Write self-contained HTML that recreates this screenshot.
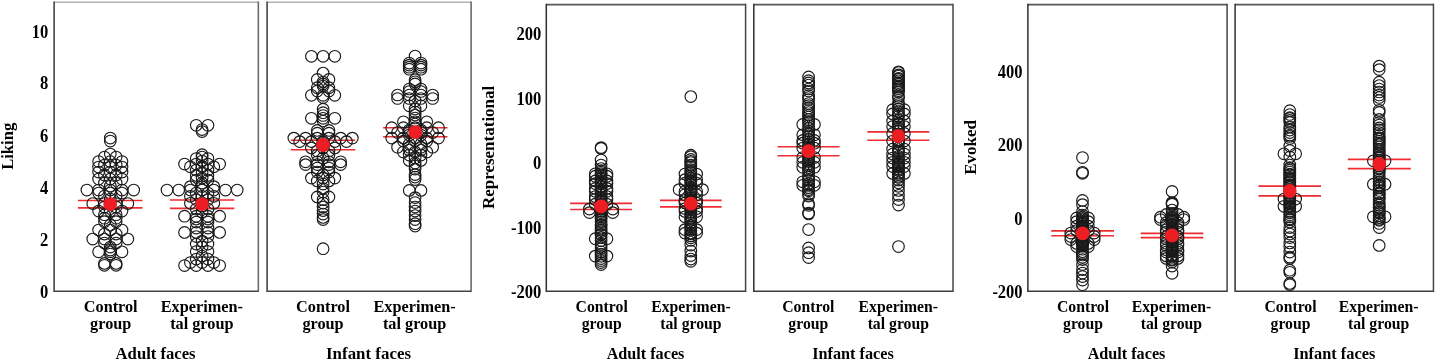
<!DOCTYPE html><html lang="en"><head><meta charset="utf-8"><title>Figure</title>
<style>html,body{margin:0;padding:0;background:#fff;overflow:hidden}svg{display:block}text{font-family:"Liberation Serif","Times New Roman",serif;font-weight:bold;fill:#000}</style></head><body>
<svg width="1436" height="360" viewBox="0 0 1436 360">
<rect width="1436" height="360" fill="#fff"/>
<g stroke="#ee2c31" stroke-width="1.65"><line x1="77.90" x2="142.50" y1="200.50" y2="200.50"/><line x1="77.90" x2="142.50" y1="207.90" y2="207.90"/></g>
<g stroke="#ee2c31" stroke-width="1.65"><line x1="169.90" x2="234.30" y1="200.00" y2="200.00"/><line x1="169.90" x2="234.30" y1="208.40" y2="208.40"/></g>
<g stroke="#ee2c31" stroke-width="1.65"><line x1="290.85" x2="355.25" y1="140.25" y2="140.25"/><line x1="290.85" x2="355.25" y1="149.75" y2="149.75"/></g>
<g stroke="#ee2c31" stroke-width="1.65"><line x1="383.10" x2="447.50" y1="127.70" y2="127.70"/><line x1="383.10" x2="447.50" y1="136.70" y2="136.70"/></g>
<g stroke="#ee2c31" stroke-width="1.65"><line x1="570.10" x2="632.10" y1="203.30" y2="203.30"/><line x1="570.10" x2="632.10" y1="209.50" y2="209.50"/></g>
<g stroke="#ee2c31" stroke-width="1.65"><line x1="660.00" x2="721.60" y1="200.35" y2="200.35"/><line x1="660.00" x2="721.60" y1="206.85" y2="206.85"/></g>
<g stroke="#ee2c31" stroke-width="1.65"><line x1="777.50" x2="839.50" y1="146.70" y2="146.70"/><line x1="777.50" x2="839.50" y1="155.70" y2="155.70"/></g>
<g stroke="#ee2c31" stroke-width="1.65"><line x1="867.30" x2="929.30" y1="131.80" y2="131.80"/><line x1="867.30" x2="929.30" y1="140.20" y2="140.20"/></g>
<g stroke="#ee2c31" stroke-width="1.65"><line x1="1051.20" x2="1114.00" y1="230.85" y2="230.85"/><line x1="1051.20" x2="1114.00" y1="235.75" y2="235.75"/></g>
<g stroke="#ee2c31" stroke-width="1.65"><line x1="1140.70" x2="1203.30" y1="233.35" y2="233.35"/><line x1="1140.70" x2="1203.30" y1="237.65" y2="237.65"/></g>
<g stroke="#ee2c31" stroke-width="1.65"><line x1="1258.40" x2="1321.00" y1="186.10" y2="186.10"/><line x1="1258.40" x2="1321.00" y1="195.90" y2="195.90"/></g>
<g stroke="#ee2c31" stroke-width="1.65"><line x1="1347.80" x2="1410.80" y1="159.35" y2="159.35"/><line x1="1347.80" x2="1410.80" y1="168.65" y2="168.65"/></g>
<g fill="none" stroke="#1a1a1a" stroke-width="1.15">
<circle cx="110.3" cy="138.0" r="5.8"/>
<circle cx="110.3" cy="141.0" r="5.8"/>
<circle cx="110.3" cy="154.0" r="5.8"/>
<circle cx="104.45" cy="157.0" r="5.8"/>
<circle cx="116.15" cy="157.0" r="5.8"/>
<circle cx="98.6" cy="161.5" r="5.8"/>
<circle cx="110.3" cy="161.5" r="5.8"/>
<circle cx="122.0" cy="161.5" r="5.8"/>
<circle cx="104.45" cy="165.0" r="5.8"/>
<circle cx="116.15" cy="165.0" r="5.8"/>
<circle cx="98.6" cy="167.0" r="5.8"/>
<circle cx="110.3" cy="167.0" r="5.8"/>
<circle cx="122.0" cy="167.0" r="5.8"/>
<circle cx="98.6" cy="172.0" r="5.8"/>
<circle cx="110.3" cy="172.0" r="5.8"/>
<circle cx="122.0" cy="172.0" r="5.8"/>
<circle cx="104.45" cy="175.0" r="5.8"/>
<circle cx="116.15" cy="175.0" r="5.8"/>
<circle cx="98.6" cy="179.0" r="5.8"/>
<circle cx="110.3" cy="179.0" r="5.8"/>
<circle cx="122.0" cy="179.0" r="5.8"/>
<circle cx="104.45" cy="183.0" r="5.8"/>
<circle cx="116.15" cy="183.0" r="5.8"/>
<circle cx="110.3" cy="186.0" r="5.8"/>
<circle cx="86.9" cy="190.0" r="5.8"/>
<circle cx="98.6" cy="190.0" r="5.8"/>
<circle cx="110.3" cy="190.0" r="5.8"/>
<circle cx="122.0" cy="190.0" r="5.8"/>
<circle cx="133.7" cy="190.0" r="5.8"/>
<circle cx="98.6" cy="193.0" r="5.8"/>
<circle cx="110.3" cy="193.0" r="5.8"/>
<circle cx="122.0" cy="193.0" r="5.8"/>
<circle cx="104.45" cy="196.0" r="5.8"/>
<circle cx="116.15" cy="196.0" r="5.8"/>
<circle cx="110.3" cy="199.0" r="5.8"/>
<circle cx="92.75" cy="203.5" r="5.8"/>
<circle cx="104.45" cy="203.5" r="5.8"/>
<circle cx="116.15" cy="203.5" r="5.8"/>
<circle cx="127.85" cy="203.5" r="5.8"/>
<circle cx="104.45" cy="207.0" r="5.8"/>
<circle cx="116.15" cy="207.0" r="5.8"/>
<circle cx="98.6" cy="211.0" r="5.8"/>
<circle cx="110.3" cy="211.0" r="5.8"/>
<circle cx="122.0" cy="211.0" r="5.8"/>
<circle cx="104.45" cy="214.7" r="5.8"/>
<circle cx="116.15" cy="214.7" r="5.8"/>
<circle cx="104.45" cy="218.2" r="5.8"/>
<circle cx="116.15" cy="218.2" r="5.8"/>
<circle cx="104.45" cy="221.7" r="5.8"/>
<circle cx="116.15" cy="221.7" r="5.8"/>
<circle cx="110.3" cy="225.0" r="5.8"/>
<circle cx="98.6" cy="230.0" r="5.8"/>
<circle cx="110.3" cy="230.0" r="5.8"/>
<circle cx="122.0" cy="230.0" r="5.8"/>
<circle cx="104.45" cy="234.0" r="5.8"/>
<circle cx="116.15" cy="234.0" r="5.8"/>
<circle cx="92.75" cy="239.0" r="5.8"/>
<circle cx="104.45" cy="239.0" r="5.8"/>
<circle cx="116.15" cy="239.0" r="5.8"/>
<circle cx="127.85" cy="239.0" r="5.8"/>
<circle cx="104.45" cy="243.0" r="5.8"/>
<circle cx="116.15" cy="243.0" r="5.8"/>
<circle cx="110.3" cy="247.0" r="5.8"/>
<circle cx="110.3" cy="250.0" r="5.8"/>
<circle cx="98.6" cy="251.8" r="5.8"/>
<circle cx="110.3" cy="251.8" r="5.8"/>
<circle cx="122.0" cy="251.8" r="5.8"/>
<circle cx="110.3" cy="254.0" r="5.8"/>
<circle cx="104.45" cy="263.4" r="5.8"/>
<circle cx="116.15" cy="263.4" r="5.8"/>
<circle cx="104.45" cy="265.3" r="5.8"/>
<circle cx="116.15" cy="265.3" r="5.8"/>
<circle cx="196.25" cy="125.3" r="5.8"/>
<circle cx="207.95" cy="125.3" r="5.8"/>
<circle cx="202.1" cy="129.5" r="5.8"/>
<circle cx="202.1" cy="131.5" r="5.8"/>
<circle cx="202.1" cy="154.7" r="5.8"/>
<circle cx="202.1" cy="157.0" r="5.8"/>
<circle cx="196.25" cy="158.5" r="5.8"/>
<circle cx="207.95" cy="158.5" r="5.8"/>
<circle cx="202.1" cy="161.0" r="5.8"/>
<circle cx="184.55" cy="164.0" r="5.8"/>
<circle cx="196.25" cy="164.0" r="5.8"/>
<circle cx="207.95" cy="164.0" r="5.8"/>
<circle cx="219.65" cy="164.0" r="5.8"/>
<circle cx="190.4" cy="166.8" r="5.8"/>
<circle cx="202.1" cy="166.8" r="5.8"/>
<circle cx="213.8" cy="166.8" r="5.8"/>
<circle cx="196.25" cy="170.0" r="5.8"/>
<circle cx="207.95" cy="170.0" r="5.8"/>
<circle cx="202.1" cy="172.5" r="5.8"/>
<circle cx="196.25" cy="175.4" r="5.8"/>
<circle cx="207.95" cy="175.4" r="5.8"/>
<circle cx="202.1" cy="178.0" r="5.8"/>
<circle cx="196.25" cy="180.0" r="5.8"/>
<circle cx="207.95" cy="180.0" r="5.8"/>
<circle cx="202.1" cy="183.0" r="5.8"/>
<circle cx="190.4" cy="186.6" r="5.8"/>
<circle cx="202.1" cy="186.6" r="5.8"/>
<circle cx="213.8" cy="186.6" r="5.8"/>
<circle cx="167.0" cy="190.0" r="5.8"/>
<circle cx="178.7" cy="190.0" r="5.8"/>
<circle cx="190.4" cy="190.0" r="5.8"/>
<circle cx="202.1" cy="190.0" r="5.8"/>
<circle cx="213.8" cy="190.0" r="5.8"/>
<circle cx="225.5" cy="190.0" r="5.8"/>
<circle cx="237.2" cy="190.0" r="5.8"/>
<circle cx="196.25" cy="193.0" r="5.8"/>
<circle cx="207.95" cy="193.0" r="5.8"/>
<circle cx="190.4" cy="196.3" r="5.8"/>
<circle cx="202.1" cy="196.3" r="5.8"/>
<circle cx="213.8" cy="196.3" r="5.8"/>
<circle cx="196.25" cy="199.5" r="5.8"/>
<circle cx="207.95" cy="199.5" r="5.8"/>
<circle cx="190.4" cy="203.3" r="5.8"/>
<circle cx="202.1" cy="203.3" r="5.8"/>
<circle cx="213.8" cy="203.3" r="5.8"/>
<circle cx="202.1" cy="206.0" r="5.8"/>
<circle cx="196.25" cy="209.0" r="5.8"/>
<circle cx="207.95" cy="209.0" r="5.8"/>
<circle cx="202.1" cy="212.0" r="5.8"/>
<circle cx="184.55" cy="216.2" r="5.8"/>
<circle cx="196.25" cy="216.2" r="5.8"/>
<circle cx="207.95" cy="216.2" r="5.8"/>
<circle cx="219.65" cy="216.2" r="5.8"/>
<circle cx="196.25" cy="219.0" r="5.8"/>
<circle cx="207.95" cy="219.0" r="5.8"/>
<circle cx="196.25" cy="222.0" r="5.8"/>
<circle cx="207.95" cy="222.0" r="5.8"/>
<circle cx="196.25" cy="228.0" r="5.8"/>
<circle cx="207.95" cy="228.0" r="5.8"/>
<circle cx="184.55" cy="232.4" r="5.8"/>
<circle cx="196.25" cy="232.4" r="5.8"/>
<circle cx="207.95" cy="232.4" r="5.8"/>
<circle cx="219.65" cy="232.4" r="5.8"/>
<circle cx="196.25" cy="236.5" r="5.8"/>
<circle cx="207.95" cy="236.5" r="5.8"/>
<circle cx="202.1" cy="241.0" r="5.8"/>
<circle cx="196.25" cy="244.0" r="5.8"/>
<circle cx="207.95" cy="244.0" r="5.8"/>
<circle cx="202.1" cy="247.0" r="5.8"/>
<circle cx="196.25" cy="251.5" r="5.8"/>
<circle cx="207.95" cy="251.5" r="5.8"/>
<circle cx="202.1" cy="256.0" r="5.8"/>
<circle cx="196.25" cy="259.0" r="5.8"/>
<circle cx="207.95" cy="259.0" r="5.8"/>
<circle cx="190.4" cy="262.5" r="5.8"/>
<circle cx="202.1" cy="262.5" r="5.8"/>
<circle cx="213.8" cy="262.5" r="5.8"/>
<circle cx="184.55" cy="265.5" r="5.8"/>
<circle cx="196.25" cy="265.5" r="5.8"/>
<circle cx="207.95" cy="265.5" r="5.8"/>
<circle cx="219.65" cy="265.5" r="5.8"/>
<circle cx="311.4" cy="56.3" r="5.8"/>
<circle cx="323.1" cy="56.3" r="5.8"/>
<circle cx="334.8" cy="56.3" r="5.8"/>
<circle cx="323.1" cy="73.1" r="5.8"/>
<circle cx="317.25" cy="79.4" r="5.8"/>
<circle cx="328.95" cy="79.4" r="5.8"/>
<circle cx="323.1" cy="82.0" r="5.8"/>
<circle cx="323.1" cy="84.0" r="5.8"/>
<circle cx="323.1" cy="86.0" r="5.8"/>
<circle cx="317.25" cy="87.7" r="5.8"/>
<circle cx="328.95" cy="87.7" r="5.8"/>
<circle cx="317.25" cy="91.0" r="5.8"/>
<circle cx="328.95" cy="91.0" r="5.8"/>
<circle cx="311.4" cy="95.3" r="5.8"/>
<circle cx="323.1" cy="95.3" r="5.8"/>
<circle cx="334.8" cy="95.3" r="5.8"/>
<circle cx="323.1" cy="97.5" r="5.8"/>
<circle cx="323.1" cy="109.2" r="5.8"/>
<circle cx="323.1" cy="112.7" r="5.8"/>
<circle cx="323.1" cy="115.5" r="5.8"/>
<circle cx="311.4" cy="118.3" r="5.8"/>
<circle cx="323.1" cy="118.3" r="5.8"/>
<circle cx="334.8" cy="118.3" r="5.8"/>
<circle cx="323.1" cy="121.0" r="5.8"/>
<circle cx="317.25" cy="130.4" r="5.8"/>
<circle cx="328.95" cy="130.4" r="5.8"/>
<circle cx="317.25" cy="133.2" r="5.8"/>
<circle cx="328.95" cy="133.2" r="5.8"/>
<circle cx="293.85" cy="138.1" r="5.8"/>
<circle cx="305.55" cy="138.1" r="5.8"/>
<circle cx="317.25" cy="138.1" r="5.8"/>
<circle cx="328.95" cy="138.1" r="5.8"/>
<circle cx="340.65" cy="138.1" r="5.8"/>
<circle cx="352.35" cy="138.1" r="5.8"/>
<circle cx="299.7" cy="141.6" r="5.8"/>
<circle cx="311.4" cy="141.6" r="5.8"/>
<circle cx="323.1" cy="141.6" r="5.8"/>
<circle cx="334.8" cy="141.6" r="5.8"/>
<circle cx="346.5" cy="141.6" r="5.8"/>
<circle cx="323.1" cy="145.0" r="5.8"/>
<circle cx="311.4" cy="147.9" r="5.8"/>
<circle cx="323.1" cy="147.9" r="5.8"/>
<circle cx="334.8" cy="147.9" r="5.8"/>
<circle cx="317.25" cy="151.0" r="5.8"/>
<circle cx="328.95" cy="151.0" r="5.8"/>
<circle cx="317.25" cy="155.0" r="5.8"/>
<circle cx="328.95" cy="155.0" r="5.8"/>
<circle cx="323.1" cy="158.0" r="5.8"/>
<circle cx="305.55" cy="161.8" r="5.8"/>
<circle cx="317.25" cy="161.8" r="5.8"/>
<circle cx="328.95" cy="161.8" r="5.8"/>
<circle cx="340.65" cy="161.8" r="5.8"/>
<circle cx="305.55" cy="164.6" r="5.8"/>
<circle cx="317.25" cy="164.6" r="5.8"/>
<circle cx="328.95" cy="164.6" r="5.8"/>
<circle cx="340.65" cy="164.6" r="5.8"/>
<circle cx="317.25" cy="168.0" r="5.8"/>
<circle cx="328.95" cy="168.0" r="5.8"/>
<circle cx="317.25" cy="172.0" r="5.8"/>
<circle cx="328.95" cy="172.0" r="5.8"/>
<circle cx="323.1" cy="175.0" r="5.8"/>
<circle cx="311.4" cy="178.1" r="5.8"/>
<circle cx="323.1" cy="178.1" r="5.8"/>
<circle cx="334.8" cy="178.1" r="5.8"/>
<circle cx="317.25" cy="180.9" r="5.8"/>
<circle cx="328.95" cy="180.9" r="5.8"/>
<circle cx="323.1" cy="184.0" r="5.8"/>
<circle cx="323.1" cy="188.5" r="5.8"/>
<circle cx="323.1" cy="192.0" r="5.8"/>
<circle cx="317.25" cy="196.9" r="5.8"/>
<circle cx="328.95" cy="196.9" r="5.8"/>
<circle cx="323.1" cy="199.5" r="5.8"/>
<circle cx="323.1" cy="203.0" r="5.8"/>
<circle cx="323.1" cy="207.0" r="5.8"/>
<circle cx="323.1" cy="210.5" r="5.8"/>
<circle cx="323.1" cy="214.0" r="5.8"/>
<circle cx="323.1" cy="217.4" r="5.8"/>
<circle cx="323.1" cy="219.5" r="5.8"/>
<circle cx="323.1" cy="248.7" r="5.8"/>
<circle cx="415.1" cy="56.0" r="5.8"/>
<circle cx="409.25" cy="63.0" r="5.8"/>
<circle cx="420.95" cy="63.0" r="5.8"/>
<circle cx="409.25" cy="65.1" r="5.8"/>
<circle cx="420.95" cy="65.1" r="5.8"/>
<circle cx="409.25" cy="67.2" r="5.8"/>
<circle cx="420.95" cy="67.2" r="5.8"/>
<circle cx="409.25" cy="69.2" r="5.8"/>
<circle cx="420.95" cy="69.2" r="5.8"/>
<circle cx="415.1" cy="79.7" r="5.8"/>
<circle cx="415.1" cy="81.8" r="5.8"/>
<circle cx="415.1" cy="83.9" r="5.8"/>
<circle cx="409.25" cy="89.0" r="5.8"/>
<circle cx="420.95" cy="89.0" r="5.8"/>
<circle cx="409.25" cy="91.5" r="5.8"/>
<circle cx="420.95" cy="91.5" r="5.8"/>
<circle cx="397.55" cy="95.0" r="5.8"/>
<circle cx="409.25" cy="95.0" r="5.8"/>
<circle cx="420.95" cy="95.0" r="5.8"/>
<circle cx="432.65" cy="95.0" r="5.8"/>
<circle cx="397.55" cy="98.5" r="5.8"/>
<circle cx="409.25" cy="98.5" r="5.8"/>
<circle cx="420.95" cy="98.5" r="5.8"/>
<circle cx="432.65" cy="98.5" r="5.8"/>
<circle cx="415.1" cy="101.0" r="5.8"/>
<circle cx="409.25" cy="105.8" r="5.8"/>
<circle cx="420.95" cy="105.8" r="5.8"/>
<circle cx="415.1" cy="109.0" r="5.8"/>
<circle cx="415.1" cy="112.0" r="5.8"/>
<circle cx="415.1" cy="115.0" r="5.8"/>
<circle cx="415.1" cy="118.0" r="5.8"/>
<circle cx="403.4" cy="121.8" r="5.8"/>
<circle cx="415.1" cy="121.8" r="5.8"/>
<circle cx="426.8" cy="121.8" r="5.8"/>
<circle cx="415.1" cy="124.0" r="5.8"/>
<circle cx="391.7" cy="127.7" r="5.8"/>
<circle cx="403.4" cy="127.7" r="5.8"/>
<circle cx="415.1" cy="127.7" r="5.8"/>
<circle cx="426.8" cy="127.7" r="5.8"/>
<circle cx="438.5" cy="127.7" r="5.8"/>
<circle cx="409.25" cy="130.0" r="5.8"/>
<circle cx="420.95" cy="130.0" r="5.8"/>
<circle cx="397.55" cy="132.5" r="5.8"/>
<circle cx="409.25" cy="132.5" r="5.8"/>
<circle cx="420.95" cy="132.5" r="5.8"/>
<circle cx="432.65" cy="132.5" r="5.8"/>
<circle cx="409.25" cy="135.0" r="5.8"/>
<circle cx="420.95" cy="135.0" r="5.8"/>
<circle cx="391.7" cy="138.1" r="5.8"/>
<circle cx="403.4" cy="138.1" r="5.8"/>
<circle cx="415.1" cy="138.1" r="5.8"/>
<circle cx="426.8" cy="138.1" r="5.8"/>
<circle cx="438.5" cy="138.1" r="5.8"/>
<circle cx="403.4" cy="141.0" r="5.8"/>
<circle cx="415.1" cy="141.0" r="5.8"/>
<circle cx="426.8" cy="141.0" r="5.8"/>
<circle cx="409.25" cy="144.0" r="5.8"/>
<circle cx="420.95" cy="144.0" r="5.8"/>
<circle cx="397.55" cy="147.2" r="5.8"/>
<circle cx="409.25" cy="147.2" r="5.8"/>
<circle cx="420.95" cy="147.2" r="5.8"/>
<circle cx="432.65" cy="147.2" r="5.8"/>
<circle cx="409.25" cy="150.0" r="5.8"/>
<circle cx="420.95" cy="150.0" r="5.8"/>
<circle cx="403.4" cy="152.0" r="5.8"/>
<circle cx="415.1" cy="152.0" r="5.8"/>
<circle cx="426.8" cy="152.0" r="5.8"/>
<circle cx="409.25" cy="155.0" r="5.8"/>
<circle cx="420.95" cy="155.0" r="5.8"/>
<circle cx="415.1" cy="158.0" r="5.8"/>
<circle cx="409.25" cy="160.4" r="5.8"/>
<circle cx="420.95" cy="160.4" r="5.8"/>
<circle cx="415.1" cy="163.0" r="5.8"/>
<circle cx="415.1" cy="166.0" r="5.8"/>
<circle cx="415.1" cy="169.0" r="5.8"/>
<circle cx="415.1" cy="174.6" r="5.8"/>
<circle cx="415.1" cy="177.0" r="5.8"/>
<circle cx="415.1" cy="179.5" r="5.8"/>
<circle cx="409.25" cy="190.4" r="5.8"/>
<circle cx="420.95" cy="190.4" r="5.8"/>
<circle cx="415.1" cy="197.6" r="5.8"/>
<circle cx="415.1" cy="202.5" r="5.8"/>
<circle cx="415.1" cy="207.0" r="5.8"/>
<circle cx="415.1" cy="211.0" r="5.8"/>
<circle cx="415.1" cy="215.5" r="5.8"/>
<circle cx="415.1" cy="219.5" r="5.8"/>
<circle cx="415.1" cy="223.7" r="5.8"/>
<circle cx="415.1" cy="226.0" r="5.8"/>
<circle cx="601.1" cy="147.6" r="5.8"/>
<circle cx="601.1" cy="148.4" r="5.8"/>
<circle cx="601.1" cy="160" r="5.8"/>
<circle cx="601.1" cy="165" r="5.8"/>
<circle cx="601.1" cy="168.5" r="5.8"/>
<circle cx="601.1" cy="170.5" r="5.8"/>
<circle cx="601.1" cy="172" r="5.8"/>
<circle cx="601.1" cy="173.74" r="5.8"/>
<circle cx="601.1" cy="175.24" r="5.8"/>
<circle cx="601.1" cy="177.72" r="5.8"/>
<circle cx="601.1" cy="178.62" r="5.8"/>
<circle cx="601.1" cy="181.05" r="5.8"/>
<circle cx="601.1" cy="182.55" r="5.8"/>
<circle cx="601.1" cy="183.85" r="5.8"/>
<circle cx="601.1" cy="186.26" r="5.8"/>
<circle cx="601.1" cy="187.32" r="5.8"/>
<circle cx="601.1" cy="189.65" r="5.8"/>
<circle cx="601.1" cy="190.87" r="5.8"/>
<circle cx="601.1" cy="192.65" r="5.8"/>
<circle cx="601.1" cy="194.89" r="5.8"/>
<circle cx="601.1" cy="197.23" r="5.8"/>
<circle cx="601.1" cy="197.95" r="5.8"/>
<circle cx="601.1" cy="199.84" r="5.8"/>
<circle cx="601.1" cy="202.19" r="5.8"/>
<circle cx="601.1" cy="204.41" r="5.8"/>
<circle cx="601.1" cy="205.61" r="5.8"/>
<circle cx="595.25" cy="173.8" r="5.8"/>
<circle cx="606.95" cy="173.8" r="5.8"/>
<circle cx="595.25" cy="176.2" r="5.8"/>
<circle cx="606.95" cy="176.2" r="5.8"/>
<circle cx="595.25" cy="180.9" r="5.8"/>
<circle cx="606.95" cy="180.9" r="5.8"/>
<circle cx="595.25" cy="183.6" r="5.8"/>
<circle cx="606.95" cy="183.6" r="5.8"/>
<circle cx="595.25" cy="188.4" r="5.8"/>
<circle cx="606.95" cy="188.4" r="5.8"/>
<circle cx="595.25" cy="191.2" r="5.8"/>
<circle cx="606.95" cy="191.2" r="5.8"/>
<circle cx="595.25" cy="196.5" r="5.8"/>
<circle cx="606.95" cy="196.5" r="5.8"/>
<circle cx="595.25" cy="199.3" r="5.8"/>
<circle cx="606.95" cy="199.3" r="5.8"/>
<circle cx="595.25" cy="204.2" r="5.8"/>
<circle cx="606.95" cy="204.2" r="5.8"/>
<circle cx="589.4" cy="209.1" r="5.8"/>
<circle cx="601.1" cy="209.1" r="5.8"/>
<circle cx="612.8" cy="209.1" r="5.8"/>
<circle cx="589.4" cy="212.6" r="5.8"/>
<circle cx="601.1" cy="212.6" r="5.8"/>
<circle cx="612.8" cy="212.6" r="5.8"/>
<circle cx="601.1" cy="207.83" r="5.8"/>
<circle cx="601.1" cy="210.8" r="5.8"/>
<circle cx="601.1" cy="211.24" r="5.8"/>
<circle cx="601.1" cy="214.6" r="5.8"/>
<circle cx="601.1" cy="215.65" r="5.8"/>
<circle cx="601.1" cy="217.4" r="5.8"/>
<circle cx="601.1" cy="219.36" r="5.8"/>
<circle cx="601.1" cy="221.68" r="5.8"/>
<circle cx="601.1" cy="224.53" r="5.8"/>
<circle cx="601.1" cy="225.46" r="5.8"/>
<circle cx="601.1" cy="228.14" r="5.8"/>
<circle cx="601.1" cy="230.23" r="5.8"/>
<circle cx="601.1" cy="231.79" r="5.8"/>
<circle cx="601.1" cy="234.08" r="5.8"/>
<circle cx="601.1" cy="235.05" r="5.8"/>
<circle cx="601.1" cy="237.64" r="5.8"/>
<circle cx="601.1" cy="240.56" r="5.8"/>
<circle cx="601.1" cy="244.19" r="5.8"/>
<circle cx="601.1" cy="246.24" r="5.8"/>
<circle cx="601.1" cy="248.59" r="5.8"/>
<circle cx="601.1" cy="251.79" r="5.8"/>
<circle cx="601.1" cy="254.1" r="5.8"/>
<circle cx="601.1" cy="256.36" r="5.8"/>
<circle cx="595.25" cy="238.7" r="5.8"/>
<circle cx="606.95" cy="238.7" r="5.8"/>
<circle cx="595.25" cy="256.1" r="5.8"/>
<circle cx="606.95" cy="256.1" r="5.8"/>
<circle cx="601.1" cy="258.5" r="5.8"/>
<circle cx="601.1" cy="260.5" r="5.8"/>
<circle cx="601.1" cy="262.5" r="5.8"/>
<circle cx="601.1" cy="264.5" r="5.8"/>
<circle cx="690.8" cy="96.6" r="5.8"/>
<circle cx="690.8" cy="155.2" r="5.8"/>
<circle cx="690.8" cy="156.6" r="5.8"/>
<circle cx="690.8" cy="159.49" r="5.8"/>
<circle cx="690.8" cy="161.33" r="5.8"/>
<circle cx="690.8" cy="162.57" r="5.8"/>
<circle cx="690.8" cy="165.13" r="5.8"/>
<circle cx="690.8" cy="167.04" r="5.8"/>
<circle cx="690.8" cy="169.63" r="5.8"/>
<circle cx="690.8" cy="171.39" r="5.8"/>
<circle cx="690.8" cy="172.64" r="5.8"/>
<circle cx="690.8" cy="175.71" r="5.8"/>
<circle cx="690.8" cy="176.19" r="5.8"/>
<circle cx="690.8" cy="178.38" r="5.8"/>
<circle cx="690.8" cy="180.63" r="5.8"/>
<circle cx="690.8" cy="181.49" r="5.8"/>
<circle cx="690.8" cy="183.73" r="5.8"/>
<circle cx="690.8" cy="184.82" r="5.8"/>
<circle cx="690.8" cy="187.5" r="5.8"/>
<circle cx="690.8" cy="189.39" r="5.8"/>
<circle cx="690.8" cy="190.86" r="5.8"/>
<circle cx="690.8" cy="193.05" r="5.8"/>
<circle cx="690.8" cy="193.98" r="5.8"/>
<circle cx="690.8" cy="196.29" r="5.8"/>
<circle cx="690.8" cy="197.89" r="5.8"/>
<circle cx="690.8" cy="199.62" r="5.8"/>
<circle cx="690.8" cy="201.19" r="5.8"/>
<circle cx="690.8" cy="203.5" r="5.8"/>
<circle cx="690.8" cy="205.4" r="5.8"/>
<circle cx="690.8" cy="206.46" r="5.8"/>
<circle cx="690.8" cy="208.49" r="5.8"/>
<circle cx="690.8" cy="209.35" r="5.8"/>
<circle cx="690.8" cy="212.05" r="5.8"/>
<circle cx="690.8" cy="213.72" r="5.8"/>
<circle cx="690.8" cy="215.97" r="5.8"/>
<circle cx="690.8" cy="217.47" r="5.8"/>
<circle cx="690.8" cy="218.43" r="5.8"/>
<circle cx="690.8" cy="220.33" r="5.8"/>
<circle cx="690.8" cy="222.5" r="5.8"/>
<circle cx="690.8" cy="223.3" r="5.8"/>
<circle cx="690.8" cy="225.69" r="5.8"/>
<circle cx="690.8" cy="227.01" r="5.8"/>
<circle cx="690.8" cy="228.69" r="5.8"/>
<circle cx="690.8" cy="230.35" r="5.8"/>
<circle cx="690.8" cy="233.14" r="5.8"/>
<circle cx="690.8" cy="233.96" r="5.8"/>
<circle cx="690.8" cy="235.88" r="5.8"/>
<circle cx="690.8" cy="237.84" r="5.8"/>
<circle cx="690.8" cy="240.3" r="5.8"/>
<circle cx="684.95" cy="174" r="5.8"/>
<circle cx="696.65" cy="174" r="5.8"/>
<circle cx="684.95" cy="179.6" r="5.8"/>
<circle cx="696.65" cy="179.6" r="5.8"/>
<circle cx="684.95" cy="183.2" r="5.8"/>
<circle cx="696.65" cy="183.2" r="5.8"/>
<circle cx="684.95" cy="191.5" r="5.8"/>
<circle cx="696.65" cy="191.5" r="5.8"/>
<circle cx="684.95" cy="194.8" r="5.8"/>
<circle cx="696.65" cy="194.8" r="5.8"/>
<circle cx="684.95" cy="200.3" r="5.8"/>
<circle cx="696.65" cy="200.3" r="5.8"/>
<circle cx="684.95" cy="202.9" r="5.8"/>
<circle cx="696.65" cy="202.9" r="5.8"/>
<circle cx="684.95" cy="208.6" r="5.8"/>
<circle cx="696.65" cy="208.6" r="5.8"/>
<circle cx="684.95" cy="211.4" r="5.8"/>
<circle cx="696.65" cy="211.4" r="5.8"/>
<circle cx="684.95" cy="216.8" r="5.8"/>
<circle cx="696.65" cy="216.8" r="5.8"/>
<circle cx="679.1" cy="189.6" r="5.8"/>
<circle cx="690.8" cy="189.6" r="5.8"/>
<circle cx="702.5" cy="189.6" r="5.8"/>
<circle cx="684.95" cy="229.6" r="5.8"/>
<circle cx="696.65" cy="229.6" r="5.8"/>
<circle cx="684.95" cy="233.1" r="5.8"/>
<circle cx="696.65" cy="233.1" r="5.8"/>
<circle cx="690.8" cy="245" r="5.8"/>
<circle cx="690.8" cy="251" r="5.8"/>
<circle cx="690.8" cy="255.5" r="5.8"/>
<circle cx="690.8" cy="259" r="5.8"/>
<circle cx="690.8" cy="261.3" r="5.8"/>
<circle cx="808.6" cy="76.9" r="5.8"/>
<circle cx="808.6" cy="80.7" r="5.8"/>
<circle cx="808.6" cy="82.9" r="5.8"/>
<circle cx="808.6" cy="85.1" r="5.8"/>
<circle cx="808.6" cy="89" r="5.8"/>
<circle cx="808.6" cy="91" r="5.8"/>
<circle cx="808.6" cy="95.5" r="5.8"/>
<circle cx="808.6" cy="97.5" r="5.8"/>
<circle cx="808.6" cy="99.5" r="5.8"/>
<circle cx="808.6" cy="103.5" r="5.8"/>
<circle cx="808.6" cy="105.5" r="5.8"/>
<circle cx="808.6" cy="108" r="5.8"/>
<circle cx="808.6" cy="110.5" r="5.8"/>
<circle cx="808.6" cy="112.5" r="5.8"/>
<circle cx="808.6" cy="115" r="5.8"/>
<circle cx="808.6" cy="117" r="5.8"/>
<circle cx="808.6" cy="119.5" r="5.8"/>
<circle cx="808.6" cy="121.5" r="5.8"/>
<circle cx="808.6" cy="122.69" r="5.8"/>
<circle cx="808.6" cy="125.7" r="5.8"/>
<circle cx="808.6" cy="128.2" r="5.8"/>
<circle cx="808.6" cy="131.14" r="5.8"/>
<circle cx="808.6" cy="133.32" r="5.8"/>
<circle cx="808.6" cy="135.7" r="5.8"/>
<circle cx="808.6" cy="136.87" r="5.8"/>
<circle cx="808.6" cy="139.44" r="5.8"/>
<circle cx="808.6" cy="141.63" r="5.8"/>
<circle cx="808.6" cy="144.94" r="5.8"/>
<circle cx="808.6" cy="147.38" r="5.8"/>
<circle cx="802.75" cy="124.4" r="5.8"/>
<circle cx="814.45" cy="124.4" r="5.8"/>
<circle cx="802.75" cy="134.8" r="5.8"/>
<circle cx="814.45" cy="134.8" r="5.8"/>
<circle cx="802.75" cy="140.4" r="5.8"/>
<circle cx="814.45" cy="140.4" r="5.8"/>
<circle cx="802.75" cy="143.2" r="5.8"/>
<circle cx="814.45" cy="143.2" r="5.8"/>
<circle cx="802.75" cy="148" r="5.8"/>
<circle cx="814.45" cy="148" r="5.8"/>
<circle cx="808.6" cy="149.49" r="5.8"/>
<circle cx="808.6" cy="151.27" r="5.8"/>
<circle cx="808.6" cy="153.11" r="5.8"/>
<circle cx="808.6" cy="154.86" r="5.8"/>
<circle cx="808.6" cy="156.98" r="5.8"/>
<circle cx="808.6" cy="158.88" r="5.8"/>
<circle cx="808.6" cy="160.15" r="5.8"/>
<circle cx="808.6" cy="161.52" r="5.8"/>
<circle cx="808.6" cy="163.88" r="5.8"/>
<circle cx="808.6" cy="165.56" r="5.8"/>
<circle cx="808.6" cy="167.6" r="5.8"/>
<circle cx="808.6" cy="169.92" r="5.8"/>
<circle cx="808.6" cy="171.28" r="5.8"/>
<circle cx="808.6" cy="175.03" r="5.8"/>
<circle cx="808.6" cy="177.2" r="5.8"/>
<circle cx="808.6" cy="179.3" r="5.8"/>
<circle cx="808.6" cy="180.25" r="5.8"/>
<circle cx="808.6" cy="183.67" r="5.8"/>
<circle cx="808.6" cy="185.47" r="5.8"/>
<circle cx="808.6" cy="187.63" r="5.8"/>
<circle cx="808.6" cy="189.5" r="5.8"/>
<circle cx="808.6" cy="190.82" r="5.8"/>
<circle cx="802.75" cy="157.5" r="5.8"/>
<circle cx="814.45" cy="157.5" r="5.8"/>
<circle cx="802.75" cy="162.3" r="5.8"/>
<circle cx="814.45" cy="162.3" r="5.8"/>
<circle cx="802.75" cy="167.2" r="5.8"/>
<circle cx="814.45" cy="167.2" r="5.8"/>
<circle cx="802.75" cy="181.8" r="5.8"/>
<circle cx="814.45" cy="181.8" r="5.8"/>
<circle cx="802.75" cy="185.3" r="5.8"/>
<circle cx="814.45" cy="185.3" r="5.8"/>
<circle cx="808.6" cy="194" r="5.8"/>
<circle cx="808.6" cy="196" r="5.8"/>
<circle cx="808.6" cy="203.7" r="5.8"/>
<circle cx="808.6" cy="205.3" r="5.8"/>
<circle cx="808.6" cy="213.1" r="5.8"/>
<circle cx="808.6" cy="213.9" r="5.8"/>
<circle cx="808.6" cy="229.5" r="5.8"/>
<circle cx="808.6" cy="247.9" r="5.8"/>
<circle cx="808.6" cy="252.7" r="5.8"/>
<circle cx="808.6" cy="257.6" r="5.8"/>
<circle cx="898.5" cy="71.8" r="5.8"/>
<circle cx="898.5" cy="72.6" r="5.8"/>
<circle cx="898.5" cy="74.86" r="5.8"/>
<circle cx="898.5" cy="76.07" r="5.8"/>
<circle cx="898.5" cy="78.38" r="5.8"/>
<circle cx="898.5" cy="79.21" r="5.8"/>
<circle cx="898.5" cy="80.82" r="5.8"/>
<circle cx="898.5" cy="82.61" r="5.8"/>
<circle cx="898.5" cy="84.15" r="5.8"/>
<circle cx="898.5" cy="85.99" r="5.8"/>
<circle cx="898.5" cy="87.2" r="5.8"/>
<circle cx="898.5" cy="88.73" r="5.8"/>
<circle cx="898.5" cy="90.53" r="5.8"/>
<circle cx="898.5" cy="92.06" r="5.8"/>
<circle cx="898.5" cy="96.2" r="5.8"/>
<circle cx="898.5" cy="98.06" r="5.8"/>
<circle cx="898.5" cy="102.52" r="5.8"/>
<circle cx="898.5" cy="104.55" r="5.8"/>
<circle cx="898.5" cy="106.26" r="5.8"/>
<circle cx="898.5" cy="108.98" r="5.8"/>
<circle cx="898.5" cy="111.68" r="5.8"/>
<circle cx="898.5" cy="114.21" r="5.8"/>
<circle cx="898.5" cy="116.21" r="5.8"/>
<circle cx="898.5" cy="120.23" r="5.8"/>
<circle cx="898.5" cy="123.04" r="5.8"/>
<circle cx="898.5" cy="124.43" r="5.8"/>
<circle cx="898.5" cy="126.97" r="5.8"/>
<circle cx="898.5" cy="128.63" r="5.8"/>
<circle cx="898.5" cy="131.16" r="5.8"/>
<circle cx="898.5" cy="134.17" r="5.8"/>
<circle cx="898.5" cy="136.51" r="5.8"/>
<circle cx="898.5" cy="140.19" r="5.8"/>
<circle cx="898.5" cy="141.29" r="5.8"/>
<circle cx="898.5" cy="143.5" r="5.8"/>
<circle cx="898.5" cy="147.95" r="5.8"/>
<circle cx="892.65" cy="109.7" r="5.8"/>
<circle cx="904.35" cy="109.7" r="5.8"/>
<circle cx="892.65" cy="113.9" r="5.8"/>
<circle cx="904.35" cy="113.9" r="5.8"/>
<circle cx="892.65" cy="120.9" r="5.8"/>
<circle cx="904.35" cy="120.9" r="5.8"/>
<circle cx="892.65" cy="126.5" r="5.8"/>
<circle cx="904.35" cy="126.5" r="5.8"/>
<circle cx="892.65" cy="133.4" r="5.8"/>
<circle cx="904.35" cy="133.4" r="5.8"/>
<circle cx="892.65" cy="141" r="5.8"/>
<circle cx="904.35" cy="141" r="5.8"/>
<circle cx="898.5" cy="151.06" r="5.8"/>
<circle cx="898.5" cy="152.83" r="5.8"/>
<circle cx="898.5" cy="156.29" r="5.8"/>
<circle cx="898.5" cy="158.32" r="5.8"/>
<circle cx="898.5" cy="160.74" r="5.8"/>
<circle cx="898.5" cy="163.08" r="5.8"/>
<circle cx="898.5" cy="164.62" r="5.8"/>
<circle cx="898.5" cy="166.08" r="5.8"/>
<circle cx="898.5" cy="167.16" r="5.8"/>
<circle cx="898.5" cy="169.01" r="5.8"/>
<circle cx="898.5" cy="170.42" r="5.8"/>
<circle cx="898.5" cy="172.99" r="5.8"/>
<circle cx="898.5" cy="174.35" r="5.8"/>
<circle cx="898.5" cy="176.4" r="5.8"/>
<circle cx="898.5" cy="177.46" r="5.8"/>
<circle cx="892.65" cy="149" r="5.8"/>
<circle cx="904.35" cy="149" r="5.8"/>
<circle cx="892.65" cy="154" r="5.8"/>
<circle cx="904.35" cy="154" r="5.8"/>
<circle cx="892.65" cy="158" r="5.8"/>
<circle cx="904.35" cy="158" r="5.8"/>
<circle cx="892.65" cy="162.3" r="5.8"/>
<circle cx="904.35" cy="162.3" r="5.8"/>
<circle cx="892.65" cy="166.5" r="5.8"/>
<circle cx="904.35" cy="166.5" r="5.8"/>
<circle cx="892.65" cy="173.4" r="5.8"/>
<circle cx="904.35" cy="173.4" r="5.8"/>
<circle cx="898.5" cy="180" r="5.8"/>
<circle cx="898.5" cy="182.8" r="5.8"/>
<circle cx="898.5" cy="186.3" r="5.8"/>
<circle cx="898.5" cy="190.4" r="5.8"/>
<circle cx="898.5" cy="195.3" r="5.8"/>
<circle cx="898.5" cy="199.5" r="5.8"/>
<circle cx="898.5" cy="205" r="5.8"/>
<circle cx="898.5" cy="246.5" r="5.8"/>
<circle cx="1082.5" cy="157.5" r="5.8"/>
<circle cx="1082.5" cy="172.3" r="5.8"/>
<circle cx="1082.5" cy="173.3" r="5.8"/>
<circle cx="1082.5" cy="200.4" r="5.8"/>
<circle cx="1082.5" cy="204.6" r="5.8"/>
<circle cx="1082.5" cy="211.5" r="5.8"/>
<circle cx="1082.5" cy="215.0" r="5.8"/>
<circle cx="1082.5" cy="216.94" r="5.8"/>
<circle cx="1082.5" cy="218.43" r="5.8"/>
<circle cx="1082.5" cy="219.59" r="5.8"/>
<circle cx="1082.5" cy="220.83" r="5.8"/>
<circle cx="1082.5" cy="222.15" r="5.8"/>
<circle cx="1082.5" cy="223.36" r="5.8"/>
<circle cx="1082.5" cy="224.1" r="5.8"/>
<circle cx="1082.5" cy="225.72" r="5.8"/>
<circle cx="1082.5" cy="226.84" r="5.8"/>
<circle cx="1082.5" cy="227.79" r="5.8"/>
<circle cx="1082.5" cy="229.08" r="5.8"/>
<circle cx="1082.5" cy="230.66" r="5.8"/>
<circle cx="1082.5" cy="231.94" r="5.8"/>
<circle cx="1082.5" cy="233.71" r="5.8"/>
<circle cx="1082.5" cy="235.3" r="5.8"/>
<circle cx="1082.5" cy="236.04" r="5.8"/>
<circle cx="1082.5" cy="237.88" r="5.8"/>
<circle cx="1082.5" cy="239.23" r="5.8"/>
<circle cx="1082.5" cy="240.5" r="5.8"/>
<circle cx="1082.5" cy="241.15" r="5.8"/>
<circle cx="1082.5" cy="242.29" r="5.8"/>
<circle cx="1082.5" cy="243.6" r="5.8"/>
<circle cx="1082.5" cy="244.87" r="5.8"/>
<circle cx="1082.5" cy="246.18" r="5.8"/>
<circle cx="1076.65" cy="217.9" r="5.8"/>
<circle cx="1088.35" cy="217.9" r="5.8"/>
<circle cx="1076.65" cy="221.6" r="5.8"/>
<circle cx="1088.35" cy="221.6" r="5.8"/>
<circle cx="1076.65" cy="226.2" r="5.8"/>
<circle cx="1088.35" cy="226.2" r="5.8"/>
<circle cx="1076.65" cy="230.5" r="5.8"/>
<circle cx="1088.35" cy="230.5" r="5.8"/>
<circle cx="1076.65" cy="243.4" r="5.8"/>
<circle cx="1088.35" cy="243.4" r="5.8"/>
<circle cx="1076.65" cy="246.6" r="5.8"/>
<circle cx="1088.35" cy="246.6" r="5.8"/>
<circle cx="1070.8" cy="233" r="5.8"/>
<circle cx="1082.5" cy="233" r="5.8"/>
<circle cx="1094.2" cy="233" r="5.8"/>
<circle cx="1070.8" cy="236.5" r="5.8"/>
<circle cx="1082.5" cy="236.5" r="5.8"/>
<circle cx="1094.2" cy="236.5" r="5.8"/>
<circle cx="1070.8" cy="239.5" r="5.8"/>
<circle cx="1082.5" cy="239.5" r="5.8"/>
<circle cx="1094.2" cy="239.5" r="5.8"/>
<circle cx="1082.5" cy="249.21" r="5.8"/>
<circle cx="1082.5" cy="251.67" r="5.8"/>
<circle cx="1082.5" cy="253.57" r="5.8"/>
<circle cx="1082.5" cy="254.97" r="5.8"/>
<circle cx="1082.5" cy="257.26" r="5.8"/>
<circle cx="1082.5" cy="259.5" r="5.8"/>
<circle cx="1082.5" cy="264.6" r="5.8"/>
<circle cx="1082.5" cy="269.5" r="5.8"/>
<circle cx="1082.5" cy="273" r="5.8"/>
<circle cx="1082.5" cy="276.5" r="5.8"/>
<circle cx="1082.5" cy="280" r="5.8"/>
<circle cx="1082.5" cy="284.8" r="5.8"/>
<circle cx="1172.1" cy="191.4" r="5.8"/>
<circle cx="1172.1" cy="202.6" r="5.8"/>
<circle cx="1172.1" cy="203.4" r="5.8"/>
<circle cx="1172.1" cy="204.2" r="5.8"/>
<circle cx="1172.1" cy="210" r="5.8"/>
<circle cx="1172.1" cy="213.29" r="5.8"/>
<circle cx="1172.1" cy="215.45" r="5.8"/>
<circle cx="1172.1" cy="217.2" r="5.8"/>
<circle cx="1172.1" cy="218.49" r="5.8"/>
<circle cx="1172.1" cy="219.9" r="5.8"/>
<circle cx="1172.1" cy="221.02" r="5.8"/>
<circle cx="1172.1" cy="222.11" r="5.8"/>
<circle cx="1172.1" cy="224.3" r="5.8"/>
<circle cx="1172.1" cy="225.2" r="5.8"/>
<circle cx="1172.1" cy="227.22" r="5.8"/>
<circle cx="1172.1" cy="228.87" r="5.8"/>
<circle cx="1172.1" cy="229.62" r="5.8"/>
<circle cx="1172.1" cy="231.08" r="5.8"/>
<circle cx="1172.1" cy="233.19" r="5.8"/>
<circle cx="1172.1" cy="234.37" r="5.8"/>
<circle cx="1172.1" cy="235.15" r="5.8"/>
<circle cx="1172.1" cy="236.55" r="5.8"/>
<circle cx="1172.1" cy="238.03" r="5.8"/>
<circle cx="1172.1" cy="240.39" r="5.8"/>
<circle cx="1172.1" cy="241.72" r="5.8"/>
<circle cx="1172.1" cy="242.37" r="5.8"/>
<circle cx="1172.1" cy="244.65" r="5.8"/>
<circle cx="1172.1" cy="246.29" r="5.8"/>
<circle cx="1172.1" cy="247.34" r="5.8"/>
<circle cx="1172.1" cy="248.42" r="5.8"/>
<circle cx="1172.1" cy="250.11" r="5.8"/>
<circle cx="1172.1" cy="251.05" r="5.8"/>
<circle cx="1172.1" cy="252.36" r="5.8"/>
<circle cx="1172.1" cy="254.97" r="5.8"/>
<circle cx="1172.1" cy="256.03" r="5.8"/>
<circle cx="1172.1" cy="257.33" r="5.8"/>
<circle cx="1172.1" cy="259.28" r="5.8"/>
<circle cx="1172.1" cy="260.12" r="5.8"/>
<circle cx="1172.1" cy="262.1" r="5.8"/>
<circle cx="1166.25" cy="214.4" r="5.8"/>
<circle cx="1177.95" cy="214.4" r="5.8"/>
<circle cx="1160.4" cy="217.2" r="5.8"/>
<circle cx="1172.1" cy="217.2" r="5.8"/>
<circle cx="1183.8" cy="217.2" r="5.8"/>
<circle cx="1160.4" cy="219.5" r="5.8"/>
<circle cx="1172.1" cy="219.5" r="5.8"/>
<circle cx="1183.8" cy="219.5" r="5.8"/>
<circle cx="1166.25" cy="222.6" r="5.8"/>
<circle cx="1177.95" cy="222.6" r="5.8"/>
<circle cx="1166.25" cy="225.2" r="5.8"/>
<circle cx="1177.95" cy="225.2" r="5.8"/>
<circle cx="1166.25" cy="229.8" r="5.8"/>
<circle cx="1177.95" cy="229.8" r="5.8"/>
<circle cx="1166.25" cy="232.1" r="5.8"/>
<circle cx="1177.95" cy="232.1" r="5.8"/>
<circle cx="1166.25" cy="236.6" r="5.8"/>
<circle cx="1177.95" cy="236.6" r="5.8"/>
<circle cx="1166.25" cy="238.9" r="5.8"/>
<circle cx="1177.95" cy="238.9" r="5.8"/>
<circle cx="1166.25" cy="243.2" r="5.8"/>
<circle cx="1177.95" cy="243.2" r="5.8"/>
<circle cx="1166.25" cy="245.4" r="5.8"/>
<circle cx="1177.95" cy="245.4" r="5.8"/>
<circle cx="1166.25" cy="249.7" r="5.8"/>
<circle cx="1177.95" cy="249.7" r="5.8"/>
<circle cx="1166.25" cy="252.0" r="5.8"/>
<circle cx="1177.95" cy="252.0" r="5.8"/>
<circle cx="1166.25" cy="255.9" r="5.8"/>
<circle cx="1177.95" cy="255.9" r="5.8"/>
<circle cx="1166.25" cy="258.4" r="5.8"/>
<circle cx="1177.95" cy="258.4" r="5.8"/>
<circle cx="1172.1" cy="266" r="5.8"/>
<circle cx="1172.1" cy="273.3" r="5.8"/>
<circle cx="1289.8" cy="110.7" r="5.8"/>
<circle cx="1289.8" cy="114.5" r="5.8"/>
<circle cx="1289.8" cy="117.52" r="5.8"/>
<circle cx="1289.8" cy="118.44" r="5.8"/>
<circle cx="1289.8" cy="120.4" r="5.8"/>
<circle cx="1289.8" cy="122.37" r="5.8"/>
<circle cx="1289.8" cy="132.59" r="5.8"/>
<circle cx="1289.8" cy="135.04" r="5.8"/>
<circle cx="1289.8" cy="136.42" r="5.8"/>
<circle cx="1289.8" cy="138.57" r="5.8"/>
<circle cx="1289.8" cy="127" r="5.8"/>
<circle cx="1289.8" cy="130" r="5.8"/>
<circle cx="1289.8" cy="146" r="5.8"/>
<circle cx="1289.8" cy="150.5" r="5.8"/>
<circle cx="1289.8" cy="157" r="5.8"/>
<circle cx="1283.95" cy="153.8" r="5.8"/>
<circle cx="1295.65" cy="153.8" r="5.8"/>
<circle cx="1289.8" cy="165.0" r="5.8"/>
<circle cx="1289.8" cy="167.65" r="5.8"/>
<circle cx="1289.8" cy="168.5" r="5.8"/>
<circle cx="1289.8" cy="170.24" r="5.8"/>
<circle cx="1289.8" cy="172.01" r="5.8"/>
<circle cx="1289.8" cy="174.04" r="5.8"/>
<circle cx="1289.8" cy="174.99" r="5.8"/>
<circle cx="1289.8" cy="177.26" r="5.8"/>
<circle cx="1289.8" cy="178.3" r="5.8"/>
<circle cx="1289.8" cy="179.94" r="5.8"/>
<circle cx="1289.8" cy="181.53" r="5.8"/>
<circle cx="1289.8" cy="182.45" r="5.8"/>
<circle cx="1289.8" cy="184.62" r="5.8"/>
<circle cx="1289.8" cy="185.87" r="5.8"/>
<circle cx="1289.8" cy="187.23" r="5.8"/>
<circle cx="1289.8" cy="189.9" r="5.8"/>
<circle cx="1289.8" cy="190.66" r="5.8"/>
<circle cx="1289.8" cy="192.66" r="5.8"/>
<circle cx="1289.8" cy="194.6" r="5.8"/>
<circle cx="1289.8" cy="195.98" r="5.8"/>
<circle cx="1289.8" cy="197.27" r="5.8"/>
<circle cx="1289.8" cy="199.12" r="5.8"/>
<circle cx="1289.8" cy="200.77" r="5.8"/>
<circle cx="1289.8" cy="202.68" r="5.8"/>
<circle cx="1289.8" cy="203.37" r="5.8"/>
<circle cx="1289.8" cy="205.58" r="5.8"/>
<circle cx="1289.8" cy="206.76" r="5.8"/>
<circle cx="1289.8" cy="208.4" r="5.8"/>
<circle cx="1283.95" cy="199" r="5.8"/>
<circle cx="1295.65" cy="199" r="5.8"/>
<circle cx="1283.95" cy="206.3" r="5.8"/>
<circle cx="1295.65" cy="206.3" r="5.8"/>
<circle cx="1289.8" cy="211.41" r="5.8"/>
<circle cx="1289.8" cy="212.81" r="5.8"/>
<circle cx="1289.8" cy="214.69" r="5.8"/>
<circle cx="1289.8" cy="216.79" r="5.8"/>
<circle cx="1289.8" cy="218.82" r="5.8"/>
<circle cx="1289.8" cy="219.91" r="5.8"/>
<circle cx="1289.8" cy="221.97" r="5.8"/>
<circle cx="1289.8" cy="227.5" r="5.8"/>
<circle cx="1289.8" cy="231" r="5.8"/>
<circle cx="1289.8" cy="234" r="5.8"/>
<circle cx="1289.8" cy="237.5" r="5.8"/>
<circle cx="1289.8" cy="242.9" r="5.8"/>
<circle cx="1289.8" cy="247" r="5.8"/>
<circle cx="1289.8" cy="252" r="5.8"/>
<circle cx="1289.8" cy="257" r="5.8"/>
<circle cx="1289.8" cy="258.4" r="5.8"/>
<circle cx="1289.8" cy="270.2" r="5.8"/>
<circle cx="1289.8" cy="272.3" r="5.8"/>
<circle cx="1289.8" cy="283.4" r="5.8"/>
<circle cx="1289.8" cy="284.8" r="5.8"/>
<circle cx="1379.2" cy="66.1" r="5.8"/>
<circle cx="1379.2" cy="69.6" r="5.8"/>
<circle cx="1379.2" cy="82.2" r="5.8"/>
<circle cx="1379.2" cy="85.6" r="5.8"/>
<circle cx="1379.2" cy="89" r="5.8"/>
<circle cx="1379.2" cy="92" r="5.8"/>
<circle cx="1379.2" cy="95" r="5.8"/>
<circle cx="1379.2" cy="97.5" r="5.8"/>
<circle cx="1379.2" cy="100.6" r="5.8"/>
<circle cx="1379.2" cy="110.3" r="5.8"/>
<circle cx="1379.2" cy="112.4" r="5.8"/>
<circle cx="1379.2" cy="119.4" r="5.8"/>
<circle cx="1379.2" cy="122.51" r="5.8"/>
<circle cx="1379.2" cy="125.03" r="5.8"/>
<circle cx="1379.2" cy="127.9" r="5.8"/>
<circle cx="1379.2" cy="129.9" r="5.8"/>
<circle cx="1379.2" cy="132.57" r="5.8"/>
<circle cx="1379.2" cy="135.47" r="5.8"/>
<circle cx="1379.2" cy="137.9" r="5.8"/>
<circle cx="1379.2" cy="139.29" r="5.8"/>
<circle cx="1379.2" cy="141.3" r="5.8"/>
<circle cx="1379.2" cy="143.15" r="5.8"/>
<circle cx="1379.2" cy="144.65" r="5.8"/>
<circle cx="1379.2" cy="146.84" r="5.8"/>
<circle cx="1379.2" cy="149.15" r="5.8"/>
<circle cx="1379.2" cy="150.75" r="5.8"/>
<circle cx="1379.2" cy="152.97" r="5.8"/>
<circle cx="1379.2" cy="154.69" r="5.8"/>
<circle cx="1379.2" cy="156.91" r="5.8"/>
<circle cx="1379.2" cy="158.12" r="5.8"/>
<circle cx="1379.2" cy="160.12" r="5.8"/>
<circle cx="1379.2" cy="161.62" r="5.8"/>
<circle cx="1379.2" cy="164.25" r="5.8"/>
<circle cx="1379.2" cy="166.17" r="5.8"/>
<circle cx="1379.2" cy="168.08" r="5.8"/>
<circle cx="1379.2" cy="168.74" r="5.8"/>
<circle cx="1379.2" cy="171.32" r="5.8"/>
<circle cx="1379.2" cy="172.99" r="5.8"/>
<circle cx="1379.2" cy="176.98" r="5.8"/>
<circle cx="1379.2" cy="179.81" r="5.8"/>
<circle cx="1379.2" cy="181.69" r="5.8"/>
<circle cx="1379.2" cy="182.34" r="5.8"/>
<circle cx="1379.2" cy="185.17" r="5.8"/>
<circle cx="1379.2" cy="186.1" r="5.8"/>
<circle cx="1379.2" cy="187.98" r="5.8"/>
<circle cx="1379.2" cy="190.47" r="5.8"/>
<circle cx="1379.2" cy="192.99" r="5.8"/>
<circle cx="1379.2" cy="193.75" r="5.8"/>
<circle cx="1379.2" cy="195.9" r="5.8"/>
<circle cx="1379.2" cy="197.77" r="5.8"/>
<circle cx="1379.2" cy="199.26" r="5.8"/>
<circle cx="1379.2" cy="203.05" r="5.8"/>
<circle cx="1379.2" cy="204.98" r="5.8"/>
<circle cx="1379.2" cy="207.33" r="5.8"/>
<circle cx="1379.2" cy="208.04" r="5.8"/>
<circle cx="1379.2" cy="210.58" r="5.8"/>
<circle cx="1379.2" cy="212.16" r="5.8"/>
<circle cx="1379.2" cy="213.29" r="5.8"/>
<circle cx="1379.2" cy="215.5" r="5.8"/>
<circle cx="1379.2" cy="217.68" r="5.8"/>
<circle cx="1379.2" cy="219.27" r="5.8"/>
<circle cx="1379.2" cy="220.36" r="5.8"/>
<circle cx="1379.2" cy="223.46" r="5.8"/>
<circle cx="1373.35" cy="160.8" r="5.8"/>
<circle cx="1385.05" cy="160.8" r="5.8"/>
<circle cx="1373.35" cy="184.2" r="5.8"/>
<circle cx="1385.05" cy="184.2" r="5.8"/>
<circle cx="1373.35" cy="216.8" r="5.8"/>
<circle cx="1385.05" cy="216.8" r="5.8"/>
<circle cx="1379.2" cy="227.5" r="5.8"/>
<circle cx="1379.2" cy="245.4" r="5.8"/>
</g>
<line x1="54.1" y1="2.15" x2="258.35" y2="2.15" stroke="#b2b4b2" stroke-width="1.5"/>
<line x1="258.35" y1="1.40" x2="258.35" y2="292.00" stroke="#6a6a6a" stroke-width="1.6"/>
<line x1="54.1" y1="1.40" x2="54.1" y2="292.00" stroke="#454545" stroke-width="1.6"/>
<line x1="54.1" y1="291.3" x2="258.35" y2="291.3" stroke="#454545" stroke-width="1.4"/>
<line x1="267.1" y1="2.15" x2="471.1" y2="2.15" stroke="#b2b4b2" stroke-width="1.5"/>
<line x1="471.1" y1="1.40" x2="471.1" y2="292.00" stroke="#6a6a6a" stroke-width="1.6"/>
<line x1="267.1" y1="1.40" x2="267.1" y2="292.00" stroke="#454545" stroke-width="1.6"/>
<line x1="267.1" y1="291.3" x2="471.1" y2="291.3" stroke="#454545" stroke-width="1.4"/>
<line x1="546.3" y1="4.65" x2="745.6" y2="4.65" stroke="#585858" stroke-width="1.85"/>
<line x1="745.6" y1="3.73" x2="745.6" y2="292.00" stroke="#444444" stroke-width="1.5"/>
<line x1="546.3" y1="3.73" x2="546.3" y2="292.00" stroke="#2e2e2e" stroke-width="1.5"/>
<line x1="546.3" y1="291.3" x2="745.6" y2="291.3" stroke="#3c3c3c" stroke-width="1.4"/>
<line x1="753.8" y1="4.65" x2="953" y2="4.65" stroke="#585858" stroke-width="1.85"/>
<line x1="953" y1="3.73" x2="953" y2="292.00" stroke="#444444" stroke-width="1.5"/>
<line x1="753.8" y1="3.73" x2="753.8" y2="292.00" stroke="#2e2e2e" stroke-width="1.5"/>
<line x1="753.8" y1="291.3" x2="953" y2="291.3" stroke="#3c3c3c" stroke-width="1.4"/>
<line x1="1027.9" y1="4.65" x2="1227.1" y2="4.65" stroke="#585858" stroke-width="1.85"/>
<line x1="1227.1" y1="3.73" x2="1227.1" y2="292.00" stroke="#444444" stroke-width="1.5"/>
<line x1="1027.9" y1="3.73" x2="1027.9" y2="292.00" stroke="#2e2e2e" stroke-width="1.5"/>
<line x1="1027.9" y1="291.3" x2="1227.1" y2="291.3" stroke="#3c3c3c" stroke-width="1.4"/>
<line x1="1235.1" y1="4.65" x2="1433.45" y2="4.65" stroke="#585858" stroke-width="1.85"/>
<line x1="1433.45" y1="3.73" x2="1433.45" y2="292.00" stroke="#444444" stroke-width="1.5"/>
<line x1="1235.1" y1="3.73" x2="1235.1" y2="292.00" stroke="#2e2e2e" stroke-width="1.5"/>
<line x1="1235.1" y1="291.3" x2="1433.45" y2="291.3" stroke="#3c3c3c" stroke-width="1.4"/>
<circle cx="110.2" cy="204.2" r="6.9" fill="#ec1e24"/>
<circle cx="202.1" cy="204.2" r="6.9" fill="#ec1e24"/>
<circle cx="323.05" cy="145" r="6.9" fill="#ec1e24"/>
<circle cx="415.3" cy="132.2" r="6.9" fill="#ec1e24"/>
<circle cx="601.1" cy="206.4" r="6.9" fill="#ec1e24"/>
<circle cx="690.8" cy="203.6" r="6.9" fill="#ec1e24"/>
<circle cx="808.5" cy="151.2" r="6.9" fill="#ec1e24"/>
<circle cx="898.3" cy="136" r="6.9" fill="#ec1e24"/>
<circle cx="1082.6" cy="233.3" r="6.9" fill="#ec1e24"/>
<circle cx="1172" cy="235.5" r="6.9" fill="#ec1e24"/>
<circle cx="1289.7" cy="191" r="6.9" fill="#ec1e24"/>
<circle cx="1379.3" cy="164" r="6.9" fill="#ec1e24"/>
<g font-size="16.1" opacity="0.999">
<text transform="translate(48.40 37.90) scale(1.03 1.15)" text-anchor="end">10</text>
<text transform="translate(48.40 89.20) scale(1.03 1.15)" text-anchor="end">8</text>
<text transform="translate(48.40 141.60) scale(1.03 1.15)" text-anchor="end">6</text>
<text transform="translate(48.40 194.30) scale(1.03 1.15)" text-anchor="end">4</text>
<text transform="translate(48.40 246.30) scale(1.03 1.15)" text-anchor="end">2</text>
<text transform="translate(48.40 298.10) scale(1.03 1.15)" text-anchor="end">0</text>
<text transform="translate(541.30 40.00) scale(1.03 1.13)" text-anchor="end">200</text>
<text transform="translate(541.30 104.50) scale(1.03 1.13)" text-anchor="end">100</text>
<text transform="translate(541.30 169.10) scale(1.03 1.13)" text-anchor="end">0</text>
<text transform="translate(541.30 233.60) scale(1.03 1.13)" text-anchor="end">-100</text>
<text transform="translate(541.30 298.10) scale(1.03 1.13)" text-anchor="end">-200</text>
<text transform="translate(1022.60 77.50) scale(1.025 1.15)" text-anchor="end">400</text>
<text transform="translate(1022.60 151.00) scale(1.025 1.15)" text-anchor="end">200</text>
<text transform="translate(1022.60 224.60) scale(1.025 1.15)" text-anchor="end">0</text>
<text transform="translate(1022.60 298.10) scale(1.025 1.15)" text-anchor="end">-200</text>
<text transform="translate(13.00 146.30) rotate(-90) scale(1.03 1.0)" text-anchor="middle">Liking</text>
<text transform="translate(494.00 147.40) rotate(-90) scale(1.057 1.0)" text-anchor="middle">Representational</text>
<text transform="translate(975.50 147.45) rotate(-90) scale(1.057 1.0)" text-anchor="middle">Evoked</text>
<text transform="translate(110.70 312.30) scale(1.01 1.03)" text-anchor="middle">Control</text>
<text transform="translate(110.70 328.60) scale(1.01 1.03)" text-anchor="middle">group</text>
<text transform="translate(201.80 312.30) scale(1.01 1.03)" text-anchor="middle">Experimen-</text>
<text transform="translate(201.80 328.60) scale(1.01 1.03)" text-anchor="middle">tal group</text>
<text transform="translate(155.60 358.90) scale(1.035 1.03)" text-anchor="middle">Adult faces</text>
<text transform="translate(323.00 312.30) scale(1.01 1.03)" text-anchor="middle">Control</text>
<text transform="translate(323.00 328.60) scale(1.01 1.03)" text-anchor="middle">group</text>
<text transform="translate(414.60 312.30) scale(1.01 1.03)" text-anchor="middle">Experimen-</text>
<text transform="translate(414.60 328.60) scale(1.01 1.03)" text-anchor="middle">tal group</text>
<text transform="translate(368.50 358.90) scale(1.05 1.03)" text-anchor="middle">Infant faces</text>
<text transform="translate(601.70 312.30) scale(0.978 1.03)" text-anchor="middle">Control</text>
<text transform="translate(601.70 328.60) scale(0.978 1.03)" text-anchor="middle">group</text>
<text transform="translate(690.90 312.30) scale(0.978 1.03)" text-anchor="middle">Experimen-</text>
<text transform="translate(690.90 328.60) scale(0.978 1.03)" text-anchor="middle">tal group</text>
<text transform="translate(645.50 358.90) scale(1.005 1.03)" text-anchor="middle">Adult faces</text>
<text transform="translate(808.30 312.30) scale(0.978 1.03)" text-anchor="middle">Control</text>
<text transform="translate(808.30 328.60) scale(0.978 1.03)" text-anchor="middle">group</text>
<text transform="translate(898.30 312.30) scale(0.978 1.03)" text-anchor="middle">Experimen-</text>
<text transform="translate(898.30 328.60) scale(0.978 1.03)" text-anchor="middle">tal group</text>
<text transform="translate(853.00 358.90) scale(1.01 1.03)" text-anchor="middle">Infant faces</text>
<text transform="translate(1083.00 312.30) scale(0.978 1.03)" text-anchor="middle">Control</text>
<text transform="translate(1083.00 328.60) scale(0.978 1.03)" text-anchor="middle">group</text>
<text transform="translate(1171.40 312.30) scale(0.978 1.03)" text-anchor="middle">Experimen-</text>
<text transform="translate(1171.40 328.60) scale(0.978 1.03)" text-anchor="middle">tal group</text>
<text transform="translate(1126.50 358.90) scale(1.005 1.03)" text-anchor="middle">Adult faces</text>
<text transform="translate(1290.50 312.30) scale(0.978 1.03)" text-anchor="middle">Control</text>
<text transform="translate(1290.50 328.60) scale(0.978 1.03)" text-anchor="middle">group</text>
<text transform="translate(1378.60 312.30) scale(0.978 1.03)" text-anchor="middle">Experimen-</text>
<text transform="translate(1378.60 328.60) scale(0.978 1.03)" text-anchor="middle">tal group</text>
<text transform="translate(1334.20 358.90) scale(1.015 1.03)" text-anchor="middle">Infant faces</text>
</g>
</svg></body></html>
